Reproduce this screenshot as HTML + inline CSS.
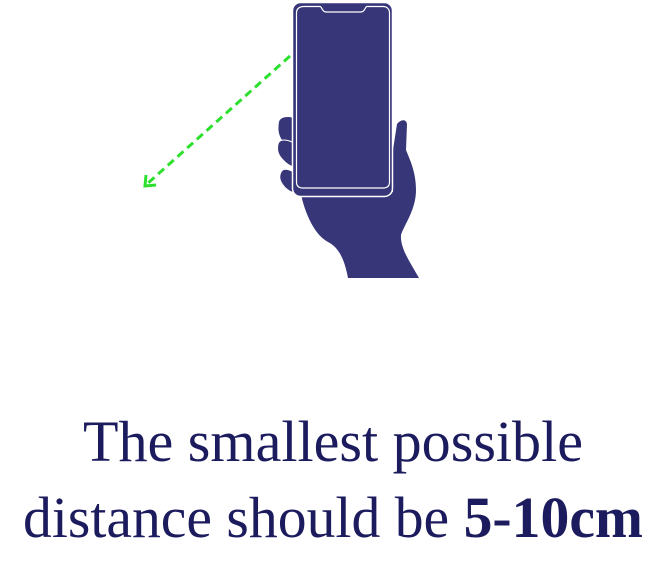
<!DOCTYPE html>
<html><head><meta charset="utf-8"><style>
html,body{margin:0;padding:0;background:#fff;width:665px;height:580px;overflow:hidden}
svg{display:block}
</style></head><body>
<svg width="665" height="580" viewBox="0 0 665 580">
  <g fill="#363679">
    <path d="M300,190 C305,215 315,235 328,242 C340,248 345,262 348,278 L419,278 C410,262 400,248 401,235 C404,225 416,210 416,190 C416,172 410,160 406,150 L407,124 C406,118 400,120 397,124 L393,150 L393,192 Z"/>
    <path d="M279,122 C280,116 292,116 294,119 L294,143 L282,140 C278,134 278,128 279,122 Z"/>
    <path d="M278,144 C280,137 292,140 299,147 C306,154 308,163 304,167 C299,170 289,167 283,160 C277,154 277,149 278,144 Z" stroke="#fff" stroke-width="1"/>
    <path d="M281,172 C284,166 295,171 301,178 C305,184 305,190 302,194 C296,195 287,191 283,185 C279,180 279,176 281,172 Z" stroke="#fff" stroke-width="1"/>
  </g>
  <g>
    <rect x="292.5" y="2.5" width="100" height="194" rx="8" fill="#363679" stroke="#fff" stroke-width="1.5"/>
    <path d="M304,6.5 L320,6.5 C322,6.5 322,12 326,12 L361,12 C365,12 365,6.5 367,6.5 L383,6.5 C387,6.5 389.5,9 389.5,13 L389.5,182 C389.5,186 387,188 383,188 L303,188 C299,188 296.5,186 296.5,182 L296.5,13 C296.5,9 299,6.5 304,6.5 Z" fill="none" stroke="#fff" stroke-width="1.2"/>
  </g>
  <g stroke="#2ee02e" stroke-width="3" fill="none">
    <line x1="290" y1="56" x2="147" y2="184" stroke-dasharray="8,5"/>
    <polyline points="146,175 145,186 156,185"/>
  </g>
  <text x="333" y="461" text-anchor="middle" font-family="'Liberation Serif',serif" font-size="58" textLength="500" lengthAdjust="spacingAndGlyphs" fill="#1b1b5e">The smallest possible</text>
  <text x="333" y="537" text-anchor="middle" font-family="'Liberation Serif',serif" font-size="58" textLength="620" lengthAdjust="spacingAndGlyphs" fill="#1b1b5e">distance should be <tspan font-weight="bold">5-10cm</tspan></text>
</svg>
</body></html>
